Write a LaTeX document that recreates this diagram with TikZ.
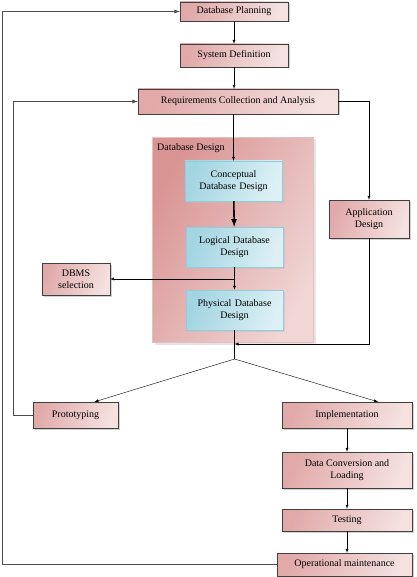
\documentclass[tikz,border=0pt]{standalone}
\usepackage{fontspec}
\setmainfont{Liberation Serif}
\usetikzlibrary{shadows}
\definecolor{pinkdark}{HTML}{D99594}
\definecolor{pinklight}{HTML}{F4E1E0}
\definecolor{bluedark}{HTML}{92CDDC}
\definecolor{bluelight}{HTML}{DDF0F5}
\tikzset{
  stagebox/.style={draw=black!75, thin, left color=pinkdark!80!white, right color=pinklight, shading angle=70,
    drop shadow={shadow xshift=1.5pt, shadow yshift=-1.5pt, fill=black!35},
    font=\fontsize{10}{12.5}\selectfont, align=center, inner sep=1pt},
  designstep/.style={draw=bluedark, thin, left color=bluedark!85!white, right color=bluelight, shading angle=70,
    drop shadow={shadow xshift=1.5pt, shadow yshift=-1.5pt, fill=black!25},
    font=\fontsize{10}{12.5}\selectfont, align=center, minimum width=97pt, minimum height=40pt, text width=90pt, inner sep=1pt},
  flow/.style={->, >=latex, thin, black},
  loopline/.style={->, >=latex, line width=0.9pt, black!70}
}
\begin{document}
\begin{tikzpicture}[x=1pt,y=-1pt]
\useasboundingbox (0,0) rectangle (416,577);
\node[draw=pinkdark!60!white, left color=pinkdark, right color=pinklight!85!pinkdark, shading angle=60,
  drop shadow={shadow xshift=2pt, shadow yshift=-2pt, fill=black!20},
  minimum width=161pt, minimum height=205pt] (design) at (233,240) {};
\node[anchor=west, font=\fontsize{10}{12}\selectfont, inner sep=0pt] (designlabel) at (157,148) {Database Design};
\node[stagebox, minimum width=108pt, minimum height=19pt] (plan) at (234,11.5) {Database Planning};
\node[stagebox, minimum width=108pt, minimum height=23pt] (sysdef) at (234,55.5) {System Definition};
\node[stagebox, minimum width=200pt, minimum height=25pt] (req) at (238,101.5) {Requirements Collection and Analysis};
\node[designstep] (concept) at (233.5,181) {Conceptual\\Database Design};
\node[designstep] (logical) at (234.5,247) {Logical Database\\Design};
\node[designstep] (physical) at (234.5,310) {Physical Database\\Design};
\node[stagebox, minimum width=68pt, minimum height=32pt] (dbms) at (76,279) {DBMS\\selection};
\node[stagebox, minimum width=80pt, minimum height=38pt] (app) at (369,219) {Application\\Design};
\node[stagebox, minimum width=85pt, minimum height=26pt] (proto) at (75.5,415) {Prototyping};
\node[stagebox, minimum width=130pt, minimum height=26pt] (impl) at (347,415) {Implementation};
\node[stagebox, minimum width=130pt, minimum height=36pt] (convert) at (347,470) {Data Conversion and\\Loading};
\node[stagebox, minimum width=130pt, minimum height=22pt] (testing) at (347,520) {Testing};
\node[stagebox, minimum width=135pt, minimum height=23pt] (operate) at (344.5,564.5) {Operational maintenance};
\coordinate (split) at (234.5,279);
\coordinate (merge) at (234.5,344);
\coordinate (fork) at (234.5,359);
\coordinate (protoin) at ([xshift=19pt]proto.north);
\coordinate (implin) at ([xshift=31pt]impl.north);
\coordinate (rim) at (2,0);
\coordinate (inner) at (13,0);
\draw[flow] (plan) -- (sysdef);
\draw[flow] (sysdef) -- (sysdef |- req.north);
\draw[flow] (req.south -| concept.north) -- (concept.north);
\draw[flow, line width=1.6pt] (concept) -- (logical);
\draw[flow] (logical) -- (physical);
\draw[flow] (split) -- (dbms.east);
\draw[flow] (req.east) -| (app.north);
\draw[flow] (app.south) |- (merge);
\draw[thin] (physical.south) -- (fork);
\draw[flow] (fork) -- (protoin);
\draw[flow] (fork) -- (implin);
\draw[loopline] (proto.west) -| (inner |- req.west) -- (req.west);
\draw[flow] (impl) -- (convert);
\draw[flow] (convert) -- (testing);
\draw[flow] (testing.south) -- (testing.south |- operate.north);
\draw[loopline] (operate.west) -| (rim |- plan.west) -- (plan.west);
\end{tikzpicture}
\end{document}
